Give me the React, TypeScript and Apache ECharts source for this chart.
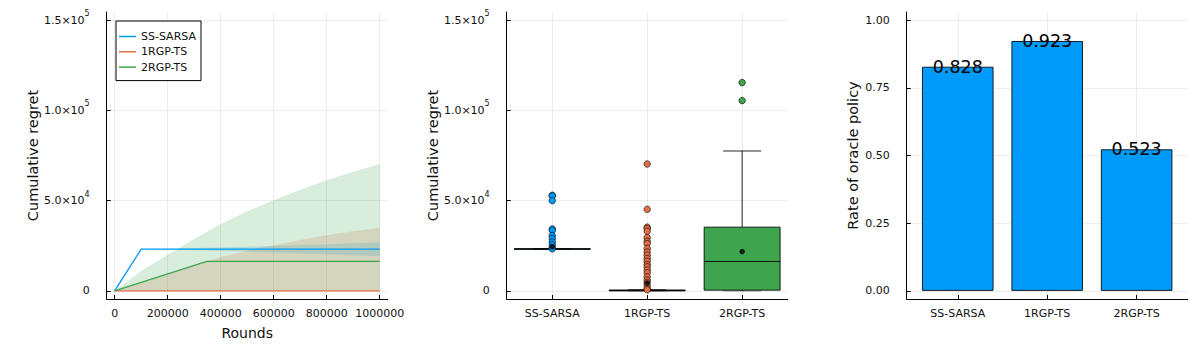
import React, { useEffect, useRef } from "react";
import * as echarts from "echarts";

// ---------- data ----------
const seriesNames = ["SS-SARSA", "1RGP-TS", "2RGP-TS"];
const seriesColors = ["#009AFA", "#E26F46", "#3EA44E"];
const ribbonColors = ["rgba(0,154,250,0.2)", "rgba(227,111,70,0.2)", "rgba(62,164,78,0.2)"];

// Panel 1: cumulative regret vs rounds (mean lines)
const sarsaX = [0, 100000, 1000000];
const sarsaY = [0, 23100, 23100];
const rgp1X = [0, 1000000];
const rgp1Y = [0, 0];
const rgp2X = [0, 348000, 1000000];
const rgp2Y = [0, 16300, 16300];

// Panel 1: ribbons
const ribbonX = [0, 100000, 200000, 300000, 400000, 500000, 600000, 700000, 800000, 900000, 1000000];
const sarsaUpper = [0, 23100, 23300, 23700, 24100, 24500, 24900, 25400, 25900, 26400, 27000];
const sarsaLower = [0, 23100, 22900, 22500, 22100, 21700, 21300, 20800, 20300, 19800, 19200];
const rgp1Upper = [0, 4700, 9400, 14000, 18800, 22200, 25300, 28200, 30800, 33000, 35000];
const rgp1Lower = [0, 0, 0, 0, 0, 0, 0, 0, 0, 0, 0];
const rgp2Upper = [0, 11000, 20000, 28700, 37000, 44000, 50200, 56000, 61300, 66000, 70300];
const rgp2Lower = [0, 0, 0, 0, 0, 0, 0, 0, 0, 0, 0];

const roundTicks = [0, 200000, 400000, 600000, 800000, 1000000];
const regretTicks = [0, 50000, 100000, 150000];
const regretTickMant = ["0", "5.0", "1.0", "1.5"];
const regretTickExp = ["", "4", "5", "5"];

// Panel 2: box plots
const boxMin = [23100, 0, 0];
const boxQ1 = [23000, 0, 400];
const boxMed = [23200, 200, 16300];
const boxQ3 = [23400, 500, 35300];
const boxMax = [23300, 600, 77500];
const boxMean = [24400, 4400, 21800];
const sarsaOutliers = [53000, 52500, 50000, 34300, 33500, 30700, 29000, 27100, 25500, 24000, 23300];
const rgp1Outliers = [70300, 45200, 35300, 34500, 33000, 29500, 27500, 26200, 23500, 21500, 19800, 18000, 16400, 14500, 13300, 11500, 10000, 7800, 6000, 4700, 3000, 1300, 600];
const rgp2Outliers = [115400, 105400];

// Panel 3: rate of oracle policy
const rateVals = [0.828, 0.923, 0.523];
const rateTicks = [0, 0.25, 0.5, 0.75, 1.0];
const rateTickLabels = ["0.00", "0.25", "0.50", "0.75", "1.00"];
const catIdx = [0, 1, 2];

const FONT = "DejaVu Sans";
const TXT = "#111";

function ribbon(name: string, xs: number[], lo: number[], hi: number[], color: string) {
  return {
    type: "custom",
    name,
    xAxisIndex: 0,
    yAxisIndex: 0,
    silent: true,
    data: [[0, 0]],
    renderItem: (_p: any, api: any) => {
      const pts: number[][] = [];
      for (let i = 0; i < xs.length; i++) pts.push(api.coord([xs[i], hi[i]]));
      for (let i = xs.length - 1; i >= 0; i--) pts.push(api.coord([xs[i], lo[i]]));
      return { type: "polygon", shape: { points: pts }, style: { fill: color, stroke: "none" } };
    },
  };
}

function lineSeries(name: string, xs: number[], ys: number[], color: string) {
  return {
    type: "line",
    name,
    xAxisIndex: 0,
    yAxisIndex: 0,
    data: xs.map((x, i) => [x, ys[i]]),
    symbol: "none",
    showSymbol: false,
    color,
    itemStyle: { color },
    lineStyle: { color, width: 1.3 },
    silent: true,
  };
}

function scatterSeries(name: string, cat: number, vals: number[], color: string, size: number, border: number) {
  return {
    type: "scatter",
    name,
    xAxisIndex: 1,
    yAxisIndex: 1,
    data: vals.map((v) => [cat, v]),
    symbol: "circle",
    symbolSize: size,
    itemStyle: { color, borderColor: "#000", borderWidth: border, opacity: 1 },
    silent: true,
  };
}

const axisLine = { show: true, onZero: false, lineStyle: { color: "#000", width: 1 } };
const splitLine = { show: true, lineStyle: { color: "rgba(0,0,0,0.07)", width: 1 } };
const tick = (vals: number[]) => ({ show: true, inside: true, length: 4, customValues: vals, lineStyle: { color: "#000" } });

const sciFormatter = (v: number) => {
  const i = regretTicks.indexOf(v);
  if (i <= 0) return "0";
  return `{b|${regretTickMant[i]}×10}{s|${regretTickExp[i]}}`;
};
const sciRich = {
  b: { fontSize: 11, fontFamily: FONT, color: TXT },
  s: { fontSize: 8, fontFamily: FONT, color: TXT, padding: [0, 0, 13, 0] },
};

function regretYAxis(gridIndex: number) {
  return {
    type: "value",
    gridIndex,
    min: -4500,
    max: 154500,
    axisLine,
    axisTick: tick(regretTicks),
    splitLine,
    axisLabel: {
      customValues: regretTicks,
      formatter: sciFormatter,
      rich: sciRich,
      fontSize: 11,
      fontFamily: FONT,
      color: TXT,
      margin: 17,
    },
    name: "Cumulative regret",
    nameLocation: "middle",
    nameGap: 66,
    nameTextStyle: { fontSize: 14.5, fontFamily: FONT, color: TXT },
  };
}

function catXAxis(gridIndex: number, half: number) {
  return {
    type: "value",
    gridIndex,
    min: -half,
    max: 2 + half,
    axisLine,
    axisTick: tick(catIdx),
    splitLine,
    axisLabel: {
      customValues: catIdx,
      formatter: (v: number) => seriesNames[Math.round(v)] ?? "",
      fontSize: 11,
      fontFamily: FONT,
      color: TXT,
      margin: 9,
    },
  };
}

export default function App() {
  const ref = useRef<HTMLDivElement>(null);
  useEffect(() => {
    document.body.style.margin = "0";
    const chart = echarts.init(ref.current!, null, { renderer: "svg" });
    const option: any = {
      animation: false,
      textStyle: { fontFamily: FONT },
      grid: [
        { left: 106.7, top: 12, width: 281, height: 287 },
        { left: 506.7, top: 12, width: 281, height: 287 },
        { left: 906.7, top: 12, width: 281, height: 287 },
      ],
      legend: {
        data: seriesNames,
        left: 116,
        top: 21,
        orient: "vertical",
        icon: "rect",
        itemWidth: 17,
        itemHeight: 1.5,
        itemGap: 4.3,
        padding: [10, 5, 8, 3],
        borderColor: "#000",
        borderWidth: 1,
        borderRadius: 0,
        backgroundColor: "#fff",
        selectedMode: false,
        textStyle: { fontSize: 11, fontFamily: FONT, color: TXT, lineHeight: 11 },
      },
      xAxis: [
        {
          type: "value",
          gridIndex: 0,
          min: -30000,
          max: 1030000,
          axisLine,
          axisTick: tick(roundTicks),
          splitLine,
          axisLabel: {
            customValues: roundTicks,
            formatter: (v: number) => v.toFixed(0),
            fontSize: 11,
            fontFamily: FONT,
            color: TXT,
            margin: 9,
          },
          name: "Rounds",
          nameLocation: "middle",
          nameGap: 27,
          nameTextStyle: { fontSize: 14, fontFamily: FONT, color: TXT },
        },
        catXAxis(1, 0.48),
        catXAxis(2, 0.571),
      ],
      yAxis: [
        regretYAxis(0),
        regretYAxis(1),
        {
          type: "value",
          gridIndex: 2,
          min: -0.03,
          max: 1.03,
          axisLine,
          axisTick: tick(rateTicks),
          splitLine,
          axisLabel: {
            customValues: rateTicks,
            formatter: (v: number) => rateTickLabels[rateTicks.indexOf(v)] ?? "",
            fontSize: 11,
            fontFamily: FONT,
            color: TXT,
            margin: 17,
          },
          name: "Rate of oracle policy",
          nameLocation: "middle",
          nameGap: 46,
          nameTextStyle: { fontSize: 14.5, fontFamily: FONT, color: TXT },
        },
      ],
      series: [
        // panel 1
        ribbon("r0", ribbonX, sarsaLower, sarsaUpper, ribbonColors[0]),
        lineSeries(seriesNames[0], sarsaX, sarsaY, seriesColors[0]),
        ribbon("r1", ribbonX, rgp1Lower, rgp1Upper, ribbonColors[1]),
        lineSeries(seriesNames[1], rgp1X, rgp1Y, seriesColors[1]),
        ribbon("r2", ribbonX, rgp2Lower, rgp2Upper, ribbonColors[2]),
        lineSeries(seriesNames[2], rgp2X, rgp2Y, seriesColors[2]),
        // panel 2 boxes
        {
          type: "custom",
          name: "boxes",
          xAxisIndex: 1,
          yAxisIndex: 1,
          silent: true,
          data: catIdx.map((i) => [i, boxMin[i], boxQ1[i], boxMed[i], boxQ3[i], boxMax[i]]),
          renderItem: (_p: any, api: any) => {
            const x = api.value(0);
            const mn = api.value(1), q1 = api.value(2), md = api.value(3), q3 = api.value(4), mx = api.value(5);
            const half = api.size([0.8, 0])[0] / 2;
            const capHalf = half / 2;
            const cx = api.coord([x, md])[0];
            const yMin = api.coord([x, mn])[1];
            const yQ1 = api.coord([x, q1])[1];
            const yMd = api.coord([x, md])[1];
            const yQ3 = api.coord([x, q3])[1];
            const yMax = api.coord([x, mx])[1];
            const stroke = "rgba(0,0,0,0.85)";
            const ls = { stroke, lineWidth: 1 };
            const col = seriesColors[x];
            return {
              type: "group",
              children: [
                { type: "line", shape: { x1: cx, y1: yQ3, x2: cx, y2: yMax }, style: ls },
                { type: "line", shape: { x1: cx - capHalf, y1: yMax, x2: cx + capHalf, y2: yMax }, style: ls },
                { type: "line", shape: { x1: cx, y1: yQ1, x2: cx, y2: yMin }, style: ls },
                { type: "line", shape: { x1: cx - capHalf, y1: yMin, x2: cx + capHalf, y2: yMin }, style: { stroke: "rgba(0,0,0,0.5)", lineWidth: 1 } },
                { type: "rect", shape: { x: cx - half, y: Math.min(yQ3, yQ1), width: half * 2, height: Math.abs(yQ1 - yQ3) }, style: { fill: col, stroke, lineWidth: 1 } },
                { type: "line", shape: { x1: cx - half, y1: yMd, x2: cx + half, y2: yMd }, style: ls },
              ],
            };
          },
        },
        scatterSeries("o0", 0, sarsaOutliers, seriesColors[0], 6.5, 0.6),
        scatterSeries("o1", 1, rgp1Outliers, seriesColors[1], 6.5, 0.6),
        scatterSeries("o2", 2, rgp2Outliers, seriesColors[2], 6.5, 0.6),
        {
          type: "scatter",
          name: "means",
          xAxisIndex: 1,
          yAxisIndex: 1,
          data: catIdx.map((i) => [i, boxMean[i]]),
          symbol: "circle",
          symbolSize: 5.5,
          itemStyle: { color: "#000" },
          silent: true,
        },
        // panel 3 bars
        {
          type: "bar",
          name: "rate",
          xAxisIndex: 2,
          yAxisIndex: 2,
          data: catIdx.map((i) => [i, rateVals[i]]),
          barWidth: 71.6,
          itemStyle: { color: seriesColors[0], borderColor: "rgba(0,0,0,0.85)", borderWidth: 1 },
          label: {
            show: true,
            position: ["50%", 0],
            align: "center",
            verticalAlign: "middle",
            fontSize: 17.5,
            fontFamily: FONT,
            color: "#000",
            formatter: (p: any) => rateVals[p.dataIndex].toFixed(3),
          },
          silent: true,
        },
      ],
    };
    chart.setOption(option);
    return () => chart.dispose();
  }, []);
  return <div ref={ref} style={{ width: 1200, height: 350, position: "absolute", left: 0, top: 0, background: "#fff" }} />;
}
